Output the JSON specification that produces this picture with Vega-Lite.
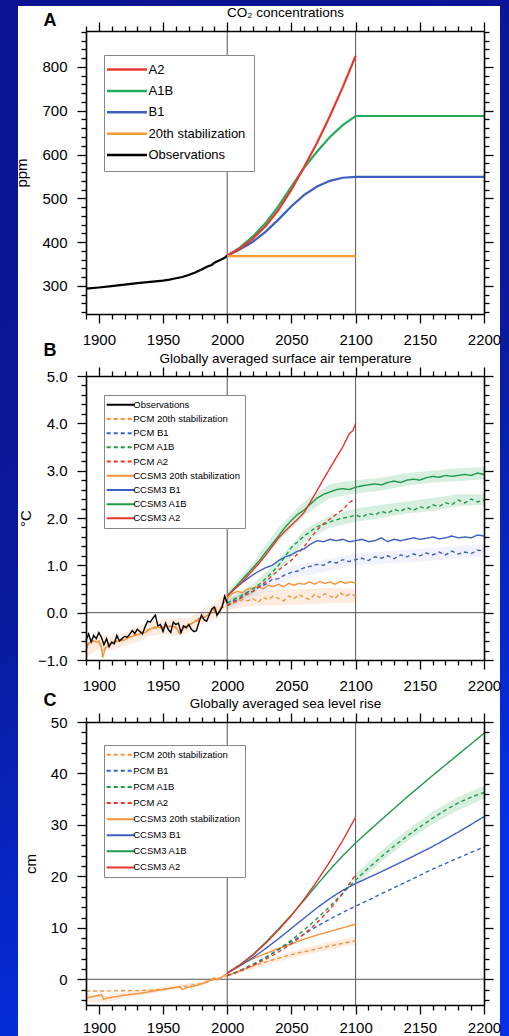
{
"$schema": "https://vega.github.io/schema/vega-lite/v6.json",
"padding": 0,
"background": "#0a1790",
"config": {"font": "Liberation Sans", "view": {"stroke": null},
  "axis": {"domainColor": "black", "domainWidth": 1.6, "tickColor": "black", "tickWidth": 1.3, "labelColor": "black", "labelFontSize": 15, "labelFont": "Liberation Sans", "titleFont": "Liberation Sans", "titleFontWeight": "normal", "titleColor": "black", "grid": false, "labelFlush": false, "labelOverlap": false}},
"datasets": {
"A": [
{"series":"Observations","year":1890,"value":294},{"series":"Observations","year":1900,"value":296.5},{"series":"Observations","year":1910,"value":299.5},{"series":"Observations","year":1920,"value":303},{"series":"Observations","year":1930,"value":306.5},{"series":"Observations","year":1940,"value":309.5},{"series":"Observations","year":1950,"value":312},{"series":"Observations","year":1955,"value":314.5},{"series":"Observations","year":1960,"value":317.5},{"series":"Observations","year":1965,"value":320.5},{"series":"Observations","year":1970,"value":325},{"series":"Observations","year":1975,"value":330.5},{"series":"Observations","year":1980,"value":337.5},{"series":"Observations","year":1985,"value":345},{"series":"Observations","year":1988,"value":348},{"series":"Observations","year":1990,"value":353},{"series":"Observations","year":1992,"value":356},{"series":"Observations","year":1995,"value":360},{"series":"Observations","year":1998,"value":364.5},{"series":"Observations","year":2000,"value":369},
{"series":"20th stabilization","year":2000,"value":368},{"series":"20th stabilization","year":2100,"value":368},
{"series":"B1","year":2000,"value":369},{"series":"B1","year":2010,"value":384},{"series":"B1","year":2020,"value":401},{"series":"B1","year":2030,"value":424},{"series":"B1","year":2040,"value":452},{"series":"B1","year":2050,"value":482},{"series":"B1","year":2060,"value":508},{"series":"B1","year":2070,"value":527},{"series":"B1","year":2080,"value":540},{"series":"B1","year":2090,"value":547},{"series":"B1","year":2100,"value":549},{"series":"B1","year":2200,"value":549},
{"series":"A1B","year":2000,"value":369},{"series":"A1B","year":2010,"value":388},{"series":"A1B","year":2020,"value":413},{"series":"A1B","year":2030,"value":444},{"series":"A1B","year":2040,"value":483},{"series":"A1B","year":2050,"value":527},{"series":"A1B","year":2060,"value":570},{"series":"A1B","year":2070,"value":607},{"series":"A1B","year":2080,"value":640},{"series":"A1B","year":2090,"value":667},{"series":"A1B","year":2100,"value":688},{"series":"A1B","year":2200,"value":688},
{"series":"A2","year":2000,"value":369},{"series":"A2","year":2010,"value":386},{"series":"A2","year":2020,"value":408},{"series":"A2","year":2030,"value":437},{"series":"A2","year":2040,"value":474},{"series":"A2","year":2050,"value":520},{"series":"A2","year":2060,"value":572},{"series":"A2","year":2070,"value":627},{"series":"A2","year":2080,"value":688},{"series":"A2","year":2090,"value":754},{"series":"A2","year":2100,"value":825}
],
"B": [
{"series":"CCSM3 20th stabilization","year":1890,"value":-0.8},{"series":"CCSM3 20th stabilization","year":1892,"value":-0.65},{"series":"CCSM3 20th stabilization","year":1894,"value":-0.62},{"series":"CCSM3 20th stabilization","year":1896,"value":-0.6},{"series":"CCSM3 20th stabilization","year":1898,"value":-0.62},{"series":"CCSM3 20th stabilization","year":1900,"value":-0.6},{"series":"CCSM3 20th stabilization","year":1902,"value":-0.72},{"series":"CCSM3 20th stabilization","year":1903,"value":-0.95},{"series":"CCSM3 20th stabilization","year":1905,"value":-0.75},{"series":"CCSM3 20th stabilization","year":1908,"value":-0.68},{"series":"CCSM3 20th stabilization","year":1912,"value":-0.62},{"series":"CCSM3 20th stabilization","year":1916,"value":-0.6},{"series":"CCSM3 20th stabilization","year":1920,"value":-0.58},{"series":"CCSM3 20th stabilization","year":1924,"value":-0.52},{"series":"CCSM3 20th stabilization","year":1928,"value":-0.48},{"series":"CCSM3 20th stabilization","year":1932,"value":-0.45},{"series":"CCSM3 20th stabilization","year":1936,"value":-0.42},{"series":"CCSM3 20th stabilization","year":1940,"value":-0.35},{"series":"CCSM3 20th stabilization","year":1944,"value":-0.3},{"series":"CCSM3 20th stabilization","year":1948,"value":-0.32},{"series":"CCSM3 20th stabilization","year":1952,"value":-0.3},{"series":"CCSM3 20th stabilization","year":1956,"value":-0.28},{"series":"CCSM3 20th stabilization","year":1960,"value":-0.3},{"series":"CCSM3 20th stabilization","year":1963,"value":-0.45},{"series":"CCSM3 20th stabilization","year":1966,"value":-0.32},{"series":"CCSM3 20th stabilization","year":1970,"value":-0.28},{"series":"CCSM3 20th stabilization","year":1974,"value":-0.2},{"series":"CCSM3 20th stabilization","year":1978,"value":-0.12},{"series":"CCSM3 20th stabilization","year":1982,"value":-0.1},{"series":"CCSM3 20th stabilization","year":1985,"value":-0.05},{"series":"CCSM3 20th stabilization","year":1988,"value":0.05},{"series":"CCSM3 20th stabilization","year":1991,"value":0.1},{"series":"CCSM3 20th stabilization","year":1992,"value":-0.08},{"series":"CCSM3 20th stabilization","year":1994,"value":0.05},{"series":"CCSM3 20th stabilization","year":1997,"value":0.2},{"series":"CCSM3 20th stabilization","year":2000,"value":0.3},{"series":"CCSM3 20th stabilization","year":2004,"value":0.4},{"series":"CCSM3 20th stabilization","year":2008,"value":0.45},{"series":"CCSM3 20th stabilization","year":2012,"value":0.42},{"series":"CCSM3 20th stabilization","year":2016,"value":0.5},{"series":"CCSM3 20th stabilization","year":2020,"value":0.52},{"series":"CCSM3 20th stabilization","year":2024,"value":0.55},{"series":"CCSM3 20th stabilization","year":2028,"value":0.5},{"series":"CCSM3 20th stabilization","year":2032,"value":0.58},{"series":"CCSM3 20th stabilization","year":2036,"value":0.55},{"series":"CCSM3 20th stabilization","year":2040,"value":0.6},{"series":"CCSM3 20th stabilization","year":2044,"value":0.55},{"series":"CCSM3 20th stabilization","year":2048,"value":0.62},{"series":"CCSM3 20th stabilization","year":2052,"value":0.58},{"series":"CCSM3 20th stabilization","year":2056,"value":0.62},{"series":"CCSM3 20th stabilization","year":2060,"value":0.6},{"series":"CCSM3 20th stabilization","year":2064,"value":0.65},{"series":"CCSM3 20th stabilization","year":2068,"value":0.6},{"series":"CCSM3 20th stabilization","year":2072,"value":0.66},{"series":"CCSM3 20th stabilization","year":2076,"value":0.62},{"series":"CCSM3 20th stabilization","year":2080,"value":0.65},{"series":"CCSM3 20th stabilization","year":2084,"value":0.6},{"series":"CCSM3 20th stabilization","year":2088,"value":0.66},{"series":"CCSM3 20th stabilization","year":2092,"value":0.62},{"series":"CCSM3 20th stabilization","year":2096,"value":0.65},{"series":"CCSM3 20th stabilization","year":2100,"value":0.63},
{"series":"PCM 20th stabilization","year":1890,"value":-0.7},{"series":"PCM 20th stabilization","year":1895,"value":-0.6},{"series":"PCM 20th stabilization","year":1900,"value":-0.62},{"series":"PCM 20th stabilization","year":1903,"value":-0.85},{"series":"PCM 20th stabilization","year":1906,"value":-0.7},{"series":"PCM 20th stabilization","year":1910,"value":-0.62},{"series":"PCM 20th stabilization","year":1915,"value":-0.58},{"series":"PCM 20th stabilization","year":1920,"value":-0.55},{"series":"PCM 20th stabilization","year":1925,"value":-0.5},{"series":"PCM 20th stabilization","year":1930,"value":-0.45},{"series":"PCM 20th stabilization","year":1935,"value":-0.4},{"series":"PCM 20th stabilization","year":1940,"value":-0.35},{"series":"PCM 20th stabilization","year":1945,"value":-0.32},{"series":"PCM 20th stabilization","year":1950,"value":-0.3},{"series":"PCM 20th stabilization","year":1955,"value":-0.3},{"series":"PCM 20th stabilization","year":1960,"value":-0.32},{"series":"PCM 20th stabilization","year":1963,"value":-0.42},{"series":"PCM 20th stabilization","year":1966,"value":-0.3},{"series":"PCM 20th stabilization","year":1970,"value":-0.25},{"series":"PCM 20th stabilization","year":1975,"value":-0.2},{"series":"PCM 20th stabilization","year":1980,"value":-0.12},{"series":"PCM 20th stabilization","year":1985,"value":-0.05},{"series":"PCM 20th stabilization","year":1990,"value":0.05},{"series":"PCM 20th stabilization","year":1992,"value":-0.05},{"series":"PCM 20th stabilization","year":1995,"value":0.1},{"series":"PCM 20th stabilization","year":2000,"value":0.15},{"series":"PCM 20th stabilization","year":2004,"value":0.2},{"series":"PCM 20th stabilization","year":2008,"value":0.22},{"series":"PCM 20th stabilization","year":2012,"value":0.28},{"series":"PCM 20th stabilization","year":2016,"value":0.25},{"series":"PCM 20th stabilization","year":2020,"value":0.3},{"series":"PCM 20th stabilization","year":2024,"value":0.22},{"series":"PCM 20th stabilization","year":2028,"value":0.32},{"series":"PCM 20th stabilization","year":2032,"value":0.28},{"series":"PCM 20th stabilization","year":2036,"value":0.35},{"series":"PCM 20th stabilization","year":2040,"value":0.3},{"series":"PCM 20th stabilization","year":2044,"value":0.25},{"series":"PCM 20th stabilization","year":2048,"value":0.35},{"series":"PCM 20th stabilization","year":2052,"value":0.3},{"series":"PCM 20th stabilization","year":2056,"value":0.38},{"series":"PCM 20th stabilization","year":2060,"value":0.32},{"series":"PCM 20th stabilization","year":2064,"value":0.28},{"series":"PCM 20th stabilization","year":2068,"value":0.38},{"series":"PCM 20th stabilization","year":2072,"value":0.32},{"series":"PCM 20th stabilization","year":2076,"value":0.4},{"series":"PCM 20th stabilization","year":2080,"value":0.35},{"series":"PCM 20th stabilization","year":2084,"value":0.3},{"series":"PCM 20th stabilization","year":2088,"value":0.42},{"series":"PCM 20th stabilization","year":2092,"value":0.35},{"series":"PCM 20th stabilization","year":2096,"value":0.4},{"series":"PCM 20th stabilization","year":2100,"value":0.35},
{"series":"PCM B1","year":2000,"value":0.15},{"series":"PCM B1","year":2005,"value":0.25},{"series":"PCM B1","year":2010,"value":0.3},{"series":"PCM B1","year":2015,"value":0.42},{"series":"PCM B1","year":2020,"value":0.45},{"series":"PCM B1","year":2025,"value":0.55},{"series":"PCM B1","year":2030,"value":0.6},{"series":"PCM B1","year":2035,"value":0.7},{"series":"PCM B1","year":2040,"value":0.72},{"series":"PCM B1","year":2045,"value":0.8},{"series":"PCM B1","year":2050,"value":0.85},{"series":"PCM B1","year":2055,"value":0.88},{"series":"PCM B1","year":2060,"value":0.95},{"series":"PCM B1","year":2065,"value":0.98},{"series":"PCM B1","year":2070,"value":1.02},{"series":"PCM B1","year":2075,"value":1.0},{"series":"PCM B1","year":2080,"value":1.08},{"series":"PCM B1","year":2085,"value":1.05},{"series":"PCM B1","year":2090,"value":1.12},{"series":"PCM B1","year":2095,"value":1.08},{"series":"PCM B1","year":2100,"value":1.12},{"series":"PCM B1","year":2105,"value":1.15},{"series":"PCM B1","year":2110,"value":1.1},{"series":"PCM B1","year":2115,"value":1.18},{"series":"PCM B1","year":2120,"value":1.15},{"series":"PCM B1","year":2125,"value":1.2},{"series":"PCM B1","year":2130,"value":1.14},{"series":"PCM B1","year":2135,"value":1.22},{"series":"PCM B1","year":2140,"value":1.18},{"series":"PCM B1","year":2145,"value":1.24},{"series":"PCM B1","year":2150,"value":1.2},{"series":"PCM B1","year":2155,"value":1.26},{"series":"PCM B1","year":2160,"value":1.22},{"series":"PCM B1","year":2165,"value":1.28},{"series":"PCM B1","year":2170,"value":1.22},{"series":"PCM B1","year":2175,"value":1.3},{"series":"PCM B1","year":2180,"value":1.24},{"series":"PCM B1","year":2185,"value":1.28},{"series":"PCM B1","year":2190,"value":1.25},{"series":"PCM B1","year":2195,"value":1.32},{"series":"PCM B1","year":2200,"value":1.3},
{"series":"PCM A1B","year":2000,"value":0.2},{"series":"PCM A1B","year":2005,"value":0.28},{"series":"PCM A1B","year":2010,"value":0.35},{"series":"PCM A1B","year":2015,"value":0.42},{"series":"PCM A1B","year":2020,"value":0.5},{"series":"PCM A1B","year":2025,"value":0.6},{"series":"PCM A1B","year":2030,"value":0.72},{"series":"PCM A1B","year":2035,"value":0.85},{"series":"PCM A1B","year":2040,"value":1.0},{"series":"PCM A1B","year":2045,"value":1.18},{"series":"PCM A1B","year":2050,"value":1.38},{"series":"PCM A1B","year":2055,"value":1.5},{"series":"PCM A1B","year":2060,"value":1.62},{"series":"PCM A1B","year":2065,"value":1.72},{"series":"PCM A1B","year":2070,"value":1.82},{"series":"PCM A1B","year":2075,"value":1.86},{"series":"PCM A1B","year":2080,"value":1.92},{"series":"PCM A1B","year":2085,"value":1.96},{"series":"PCM A1B","year":2090,"value":2.0},{"series":"PCM A1B","year":2095,"value":2.02},{"series":"PCM A1B","year":2100,"value":2.06},{"series":"PCM A1B","year":2105,"value":2.02},{"series":"PCM A1B","year":2110,"value":2.1},{"series":"PCM A1B","year":2115,"value":2.06},{"series":"PCM A1B","year":2120,"value":2.14},{"series":"PCM A1B","year":2125,"value":2.1},{"series":"PCM A1B","year":2130,"value":2.18},{"series":"PCM A1B","year":2135,"value":2.14},{"series":"PCM A1B","year":2140,"value":2.22},{"series":"PCM A1B","year":2145,"value":2.16},{"series":"PCM A1B","year":2150,"value":2.24},{"series":"PCM A1B","year":2155,"value":2.2},{"series":"PCM A1B","year":2160,"value":2.28},{"series":"PCM A1B","year":2165,"value":2.24},{"series":"PCM A1B","year":2170,"value":2.32},{"series":"PCM A1B","year":2175,"value":2.28},{"series":"PCM A1B","year":2180,"value":2.38},{"series":"PCM A1B","year":2185,"value":2.32},{"series":"PCM A1B","year":2190,"value":2.4},{"series":"PCM A1B","year":2195,"value":2.34},{"series":"PCM A1B","year":2200,"value":2.38},
{"series":"PCM A2","year":2000,"value":0.15},{"series":"PCM A2","year":2005,"value":0.22},{"series":"PCM A2","year":2010,"value":0.3},{"series":"PCM A2","year":2015,"value":0.38},{"series":"PCM A2","year":2020,"value":0.45},{"series":"PCM A2","year":2025,"value":0.55},{"series":"PCM A2","year":2030,"value":0.65},{"series":"PCM A2","year":2035,"value":0.78},{"series":"PCM A2","year":2040,"value":0.9},{"series":"PCM A2","year":2045,"value":1.0},{"series":"PCM A2","year":2050,"value":1.11},{"series":"PCM A2","year":2055,"value":1.25},{"series":"PCM A2","year":2060,"value":1.4},{"series":"PCM A2","year":2065,"value":1.58},{"series":"PCM A2","year":2070,"value":1.75},{"series":"PCM A2","year":2075,"value":1.88},{"series":"PCM A2","year":2080,"value":1.98},{"series":"PCM A2","year":2085,"value":2.08},{"series":"PCM A2","year":2090,"value":2.18},{"series":"PCM A2","year":2095,"value":2.32},{"series":"PCM A2","year":2100,"value":2.42},
{"series":"CCSM3 B1","year":2000,"value":0.35},{"series":"CCSM3 B1","year":2005,"value":0.5},{"series":"CCSM3 B1","year":2010,"value":0.6},{"series":"CCSM3 B1","year":2015,"value":0.7},{"series":"CCSM3 B1","year":2020,"value":0.8},{"series":"CCSM3 B1","year":2025,"value":0.88},{"series":"CCSM3 B1","year":2030,"value":0.95},{"series":"CCSM3 B1","year":2035,"value":1.0},{"series":"CCSM3 B1","year":2040,"value":1.1},{"series":"CCSM3 B1","year":2045,"value":1.18},{"series":"CCSM3 B1","year":2050,"value":1.22},{"series":"CCSM3 B1","year":2055,"value":1.3},{"series":"CCSM3 B1","year":2060,"value":1.35},{"series":"CCSM3 B1","year":2065,"value":1.45},{"series":"CCSM3 B1","year":2070,"value":1.52},{"series":"CCSM3 B1","year":2075,"value":1.5},{"series":"CCSM3 B1","year":2080,"value":1.55},{"series":"CCSM3 B1","year":2085,"value":1.52},{"series":"CCSM3 B1","year":2090,"value":1.55},{"series":"CCSM3 B1","year":2095,"value":1.5},{"series":"CCSM3 B1","year":2100,"value":1.52},{"series":"CCSM3 B1","year":2105,"value":1.55},{"series":"CCSM3 B1","year":2110,"value":1.5},{"series":"CCSM3 B1","year":2115,"value":1.52},{"series":"CCSM3 B1","year":2120,"value":1.58},{"series":"CCSM3 B1","year":2125,"value":1.5},{"series":"CCSM3 B1","year":2130,"value":1.55},{"series":"CCSM3 B1","year":2135,"value":1.52},{"series":"CCSM3 B1","year":2140,"value":1.55},{"series":"CCSM3 B1","year":2145,"value":1.58},{"series":"CCSM3 B1","year":2150,"value":1.55},{"series":"CCSM3 B1","year":2155,"value":1.57},{"series":"CCSM3 B1","year":2160,"value":1.6},{"series":"CCSM3 B1","year":2165,"value":1.56},{"series":"CCSM3 B1","year":2170,"value":1.58},{"series":"CCSM3 B1","year":2175,"value":1.62},{"series":"CCSM3 B1","year":2180,"value":1.58},{"series":"CCSM3 B1","year":2185,"value":1.6},{"series":"CCSM3 B1","year":2190,"value":1.58},{"series":"CCSM3 B1","year":2195,"value":1.64},{"series":"CCSM3 B1","year":2200,"value":1.62},
{"series":"CCSM3 A1B","year":2000,"value":0.35},{"series":"CCSM3 A1B","year":2005,"value":0.5},{"series":"CCSM3 A1B","year":2010,"value":0.65},{"series":"CCSM3 A1B","year":2015,"value":0.8},{"series":"CCSM3 A1B","year":2020,"value":0.95},{"series":"CCSM3 A1B","year":2025,"value":1.1},{"series":"CCSM3 A1B","year":2030,"value":1.28},{"series":"CCSM3 A1B","year":2035,"value":1.45},{"series":"CCSM3 A1B","year":2040,"value":1.62},{"series":"CCSM3 A1B","year":2045,"value":1.8},{"series":"CCSM3 A1B","year":2050,"value":1.95},{"series":"CCSM3 A1B","year":2055,"value":2.08},{"series":"CCSM3 A1B","year":2060,"value":2.17},{"series":"CCSM3 A1B","year":2065,"value":2.3},{"series":"CCSM3 A1B","year":2070,"value":2.42},{"series":"CCSM3 A1B","year":2075,"value":2.5},{"series":"CCSM3 A1B","year":2080,"value":2.55},{"series":"CCSM3 A1B","year":2085,"value":2.6},{"series":"CCSM3 A1B","year":2090,"value":2.62},{"series":"CCSM3 A1B","year":2095,"value":2.6},{"series":"CCSM3 A1B","year":2100,"value":2.65},{"series":"CCSM3 A1B","year":2105,"value":2.68},{"series":"CCSM3 A1B","year":2110,"value":2.7},{"series":"CCSM3 A1B","year":2115,"value":2.72},{"series":"CCSM3 A1B","year":2120,"value":2.7},{"series":"CCSM3 A1B","year":2125,"value":2.75},{"series":"CCSM3 A1B","year":2130,"value":2.78},{"series":"CCSM3 A1B","year":2135,"value":2.75},{"series":"CCSM3 A1B","year":2140,"value":2.8},{"series":"CCSM3 A1B","year":2145,"value":2.82},{"series":"CCSM3 A1B","year":2150,"value":2.8},{"series":"CCSM3 A1B","year":2155,"value":2.85},{"series":"CCSM3 A1B","year":2160,"value":2.88},{"series":"CCSM3 A1B","year":2165,"value":2.86},{"series":"CCSM3 A1B","year":2170,"value":2.9},{"series":"CCSM3 A1B","year":2175,"value":2.88},{"series":"CCSM3 A1B","year":2180,"value":2.9},{"series":"CCSM3 A1B","year":2185,"value":2.92},{"series":"CCSM3 A1B","year":2190,"value":2.9},{"series":"CCSM3 A1B","year":2195,"value":2.95},{"series":"CCSM3 A1B","year":2200,"value":2.92},
{"series":"CCSM3 A2","year":2000,"value":0.35},{"series":"CCSM3 A2","year":2005,"value":0.48},{"series":"CCSM3 A2","year":2010,"value":0.6},{"series":"CCSM3 A2","year":2015,"value":0.75},{"series":"CCSM3 A2","year":2020,"value":0.9},{"series":"CCSM3 A2","year":2025,"value":1.05},{"series":"CCSM3 A2","year":2030,"value":1.22},{"series":"CCSM3 A2","year":2035,"value":1.4},{"series":"CCSM3 A2","year":2040,"value":1.58},{"series":"CCSM3 A2","year":2045,"value":1.72},{"series":"CCSM3 A2","year":2050,"value":1.85},{"series":"CCSM3 A2","year":2055,"value":1.98},{"series":"CCSM3 A2","year":2060,"value":2.12},{"series":"CCSM3 A2","year":2065,"value":2.35},{"series":"CCSM3 A2","year":2070,"value":2.58},{"series":"CCSM3 A2","year":2075,"value":2.82},{"series":"CCSM3 A2","year":2080,"value":3.05},{"series":"CCSM3 A2","year":2085,"value":3.28},{"series":"CCSM3 A2","year":2090,"value":3.5},{"series":"CCSM3 A2","year":2095,"value":3.78},{"series":"CCSM3 A2","year":2098,"value":3.85},{"series":"CCSM3 A2","year":2100,"value":4.0},
{"series":"Observations","year":1890,"value":-0.58},{"series":"Observations","year":1892,"value":-0.45},{"series":"Observations","year":1894,"value":-0.62},{"series":"Observations","year":1896,"value":-0.48},{"series":"Observations","year":1898,"value":-0.55},{"series":"Observations","year":1900,"value":-0.42},{"series":"Observations","year":1902,"value":-0.52},{"series":"Observations","year":1904,"value":-0.68},{"series":"Observations","year":1906,"value":-0.55},{"series":"Observations","year":1908,"value":-0.72},{"series":"Observations","year":1910,"value":-0.62},{"series":"Observations","year":1912,"value":-0.66},{"series":"Observations","year":1914,"value":-0.48},{"series":"Observations","year":1916,"value":-0.6},{"series":"Observations","year":1918,"value":-0.55},{"series":"Observations","year":1920,"value":-0.5},{"series":"Observations","year":1922,"value":-0.52},{"series":"Observations","year":1924,"value":-0.46},{"series":"Observations","year":1926,"value":-0.38},{"series":"Observations","year":1928,"value":-0.44},{"series":"Observations","year":1930,"value":-0.35},{"series":"Observations","year":1932,"value":-0.4},{"series":"Observations","year":1934,"value":-0.45},{"series":"Observations","year":1936,"value":-0.3},{"series":"Observations","year":1938,"value":-0.18},{"series":"Observations","year":1940,"value":-0.2},{"series":"Observations","year":1942,"value":-0.12},{"series":"Observations","year":1944,"value":-0.05},{"series":"Observations","year":1946,"value":-0.28},{"series":"Observations","year":1948,"value":-0.25},{"series":"Observations","year":1950,"value":-0.4},{"series":"Observations","year":1952,"value":-0.22},{"series":"Observations","year":1954,"value":-0.35},{"series":"Observations","year":1956,"value":-0.42},{"series":"Observations","year":1958,"value":-0.2},{"series":"Observations","year":1960,"value":-0.25},{"series":"Observations","year":1962,"value":-0.22},{"series":"Observations","year":1964,"value":-0.42},{"series":"Observations","year":1966,"value":-0.28},{"series":"Observations","year":1968,"value":-0.32},{"series":"Observations","year":1970,"value":-0.25},{"series":"Observations","year":1972,"value":-0.35},{"series":"Observations","year":1974,"value":-0.4},{"series":"Observations","year":1976,"value":-0.38},{"series":"Observations","year":1978,"value":-0.2},{"series":"Observations","year":1980,"value":-0.05},{"series":"Observations","year":1982,"value":-0.15},{"series":"Observations","year":1984,"value":-0.18},{"series":"Observations","year":1986,"value":-0.05},{"series":"Observations","year":1988,"value":0.08},{"series":"Observations","year":1990,"value":0.12},{"series":"Observations","year":1992,"value":-0.05},{"series":"Observations","year":1994,"value":0.02},{"series":"Observations","year":1996,"value":0.12},{"series":"Observations","year":1998,"value":0.35},{"series":"Observations","year":2000,"value":0.2}
],
"Bband": [
{"series":"CCSM3 20th stabilization","year":1890,"lo":-0.95,"hi":-0.65},{"series":"CCSM3 20th stabilization","year":1900,"lo":-0.75,"hi":-0.45},{"series":"CCSM3 20th stabilization","year":1910,"lo":-0.8,"hi":-0.5},{"series":"CCSM3 20th stabilization","year":1920,"lo":-0.7,"hi":-0.42},{"series":"CCSM3 20th stabilization","year":1930,"lo":-0.62,"hi":-0.3},{"series":"CCSM3 20th stabilization","year":1940,"lo":-0.5,"hi":-0.2},{"series":"CCSM3 20th stabilization","year":1950,"lo":-0.45,"hi":-0.15},{"series":"CCSM3 20th stabilization","year":1960,"lo":-0.5,"hi":-0.12},{"series":"CCSM3 20th stabilization","year":1970,"lo":-0.4,"hi":-0.12},{"series":"CCSM3 20th stabilization","year":1980,"lo":-0.25,"hi":0.05},{"series":"CCSM3 20th stabilization","year":1990,"lo":-0.1,"hi":0.2},{"series":"CCSM3 20th stabilization","year":2000,"lo":0.15,"hi":0.45},
{"series":"PCM 20th stabilization","year":2000,"lo":0.05,"hi":0.3},{"series":"PCM 20th stabilization","year":2020,"lo":0.15,"hi":0.45},{"series":"PCM 20th stabilization","year":2040,"lo":0.15,"hi":0.48},{"series":"PCM 20th stabilization","year":2060,"lo":0.18,"hi":0.5},{"series":"PCM 20th stabilization","year":2080,"lo":0.2,"hi":0.52},{"series":"PCM 20th stabilization","year":2100,"lo":0.2,"hi":0.5},
{"series":"PCM B1","year":2000,"lo":0.05,"hi":0.25},{"series":"PCM B1","year":2050,"lo":0.72,"hi":0.98},{"series":"PCM B1","year":2100,"lo":1.0,"hi":1.25},{"series":"PCM B1","year":2150,"lo":1.08,"hi":1.35},{"series":"PCM B1","year":2200,"lo":1.18,"hi":1.45},
{"series":"PCM A1B","year":2000,"lo":0.1,"hi":0.3},{"series":"PCM A1B","year":2020,"lo":0.4,"hi":0.6},{"series":"PCM A1B","year":2040,"lo":0.88,"hi":1.12},{"series":"PCM A1B","year":2060,"lo":1.5,"hi":1.75},{"series":"PCM A1B","year":2080,"lo":1.8,"hi":2.05},{"series":"PCM A1B","year":2100,"lo":1.92,"hi":2.2},{"series":"PCM A1B","year":2120,"lo":2.0,"hi":2.28},{"series":"PCM A1B","year":2140,"lo":2.1,"hi":2.35},{"series":"PCM A1B","year":2160,"lo":2.15,"hi":2.42},{"series":"PCM A1B","year":2180,"lo":2.25,"hi":2.5},{"series":"PCM A1B","year":2200,"lo":2.28,"hi":2.5},
{"series":"CCSM3 A1B","year":2000,"lo":0.3,"hi":0.45},{"series":"CCSM3 A1B","year":2020,"lo":0.85,"hi":1.05},{"series":"CCSM3 A1B","year":2040,"lo":1.5,"hi":1.8},{"series":"CCSM3 A1B","year":2060,"lo":2.05,"hi":2.35},{"series":"CCSM3 A1B","year":2080,"lo":2.42,"hi":2.72},{"series":"CCSM3 A1B","year":2100,"lo":2.52,"hi":2.8},{"series":"CCSM3 A1B","year":2120,"lo":2.58,"hi":2.85},{"series":"CCSM3 A1B","year":2140,"lo":2.68,"hi":2.95},{"series":"CCSM3 A1B","year":2160,"lo":2.75,"hi":3.0},{"series":"CCSM3 A1B","year":2180,"lo":2.78,"hi":3.05},{"series":"CCSM3 A1B","year":2200,"lo":2.82,"hi":3.08}
],
"C": [
{"series":"CCSM3 20th stabilization","year":1890,"value":-3.6},{"series":"CCSM3 20th stabilization","year":1895,"value":-3.4},{"series":"CCSM3 20th stabilization","year":1900,"value":-3.1},{"series":"CCSM3 20th stabilization","year":1902,"value":-3.0},{"series":"CCSM3 20th stabilization","year":1904,"value":-3.9},{"series":"CCSM3 20th stabilization","year":1906,"value":-3.7},{"series":"CCSM3 20th stabilization","year":1910,"value":-3.5},{"series":"CCSM3 20th stabilization","year":1920,"value":-3.1},{"series":"CCSM3 20th stabilization","year":1930,"value":-2.8},{"series":"CCSM3 20th stabilization","year":1940,"value":-2.4},{"series":"CCSM3 20th stabilization","year":1950,"value":-2.0},{"series":"CCSM3 20th stabilization","year":1960,"value":-1.55},{"series":"CCSM3 20th stabilization","year":1963,"value":-1.45},{"series":"CCSM3 20th stabilization","year":1965,"value":-2.0},{"series":"CCSM3 20th stabilization","year":1968,"value":-1.65},{"series":"CCSM3 20th stabilization","year":1975,"value":-1.3},{"series":"CCSM3 20th stabilization","year":1980,"value":-0.9},{"series":"CCSM3 20th stabilization","year":1985,"value":-0.4},{"series":"CCSM3 20th stabilization","year":1988,"value":0.0},{"series":"CCSM3 20th stabilization","year":1990,"value":0.3},{"series":"CCSM3 20th stabilization","year":1992,"value":-0.1},{"series":"CCSM3 20th stabilization","year":1994,"value":0.05},{"series":"CCSM3 20th stabilization","year":1996,"value":0.45},{"series":"CCSM3 20th stabilization","year":2000,"value":1.2},{"series":"CCSM3 20th stabilization","year":2010,"value":2.8},{"series":"CCSM3 20th stabilization","year":2020,"value":4.0},{"series":"CCSM3 20th stabilization","year":2030,"value":5.0},{"series":"CCSM3 20th stabilization","year":2040,"value":6.0},{"series":"CCSM3 20th stabilization","year":2050,"value":6.9},{"series":"CCSM3 20th stabilization","year":2060,"value":7.8},{"series":"CCSM3 20th stabilization","year":2070,"value":8.6},{"series":"CCSM3 20th stabilization","year":2080,"value":9.3},{"series":"CCSM3 20th stabilization","year":2090,"value":10.0},{"series":"CCSM3 20th stabilization","year":2100,"value":10.7},
{"series":"PCM 20th stabilization","year":1890,"value":-2.3},{"series":"PCM 20th stabilization","year":1910,"value":-2.25},{"series":"PCM 20th stabilization","year":1930,"value":-2.2},{"series":"PCM 20th stabilization","year":1945,"value":-2.05},{"series":"PCM 20th stabilization","year":1955,"value":-1.8},{"series":"PCM 20th stabilization","year":1960,"value":-1.6},{"series":"PCM 20th stabilization","year":1970,"value":-1.25},{"series":"PCM 20th stabilization","year":1980,"value":-0.85},{"series":"PCM 20th stabilization","year":1985,"value":-0.45},{"series":"PCM 20th stabilization","year":1990,"value":0.0},{"series":"PCM 20th stabilization","year":1995,"value":0.3},{"series":"PCM 20th stabilization","year":2000,"value":0.7},{"series":"PCM 20th stabilization","year":2010,"value":1.7},{"series":"PCM 20th stabilization","year":2025,"value":3.0},{"series":"PCM 20th stabilization","year":2050,"value":4.8},{"series":"PCM 20th stabilization","year":2075,"value":6.2},{"series":"PCM 20th stabilization","year":2100,"value":7.5},
{"series":"PCM B1","year":2000,"value":0.7},{"series":"PCM B1","year":2010,"value":1.7},{"series":"PCM B1","year":2020,"value":2.9},{"series":"PCM B1","year":2030,"value":4.3},{"series":"PCM B1","year":2040,"value":5.8},{"series":"PCM B1","year":2050,"value":7.3},{"series":"PCM B1","year":2060,"value":8.8},{"series":"PCM B1","year":2070,"value":10.3},{"series":"PCM B1","year":2080,"value":11.7},{"series":"PCM B1","year":2090,"value":13.0},{"series":"PCM B1","year":2100,"value":14.2},{"series":"PCM B1","year":2120,"value":16.6},{"series":"PCM B1","year":2140,"value":19.0},{"series":"PCM B1","year":2160,"value":21.4},{"series":"PCM B1","year":2180,"value":23.6},{"series":"PCM B1","year":2200,"value":25.7},
{"series":"PCM A1B","year":2000,"value":0.7},{"series":"PCM A1B","year":2010,"value":1.6},{"series":"PCM A1B","year":2020,"value":2.8},{"series":"PCM A1B","year":2030,"value":4.2},{"series":"PCM A1B","year":2040,"value":5.8},{"series":"PCM A1B","year":2050,"value":7.6},{"series":"PCM A1B","year":2060,"value":9.6},{"series":"PCM A1B","year":2070,"value":11.8},{"series":"PCM A1B","year":2080,"value":14.2},{"series":"PCM A1B","year":2090,"value":16.7},{"series":"PCM A1B","year":2100,"value":19.3},{"series":"PCM A1B","year":2110,"value":21.6},{"series":"PCM A1B","year":2120,"value":23.8},{"series":"PCM A1B","year":2130,"value":25.9},{"series":"PCM A1B","year":2140,"value":27.8},{"series":"PCM A1B","year":2150,"value":29.6},{"series":"PCM A1B","year":2160,"value":31.3},{"series":"PCM A1B","year":2170,"value":32.9},{"series":"PCM A1B","year":2180,"value":34.3},{"series":"PCM A1B","year":2190,"value":35.4},{"series":"PCM A1B","year":2200,"value":36.3},
{"series":"PCM A2","year":2000,"value":0.7},{"series":"PCM A2","year":2010,"value":1.6},{"series":"PCM A2","year":2020,"value":2.7},{"series":"PCM A2","year":2030,"value":3.9},{"series":"PCM A2","year":2040,"value":5.3},{"series":"PCM A2","year":2050,"value":6.9},{"series":"PCM A2","year":2060,"value":8.8},{"series":"PCM A2","year":2070,"value":11.0},{"series":"PCM A2","year":2080,"value":13.6},{"series":"PCM A2","year":2090,"value":16.7},{"series":"PCM A2","year":2100,"value":20.3},
{"series":"CCSM3 B1","year":2000,"value":1.2},{"series":"CCSM3 B1","year":2010,"value":2.6},{"series":"CCSM3 B1","year":2020,"value":4.2},{"series":"CCSM3 B1","year":2030,"value":6.0},{"series":"CCSM3 B1","year":2040,"value":7.9},{"series":"CCSM3 B1","year":2050,"value":9.9},{"series":"CCSM3 B1","year":2060,"value":11.9},{"series":"CCSM3 B1","year":2070,"value":13.9},{"series":"CCSM3 B1","year":2080,"value":15.7},{"series":"CCSM3 B1","year":2090,"value":17.3},{"series":"CCSM3 B1","year":2100,"value":18.6},{"series":"CCSM3 B1","year":2120,"value":20.9},{"series":"CCSM3 B1","year":2140,"value":23.3},{"series":"CCSM3 B1","year":2160,"value":25.8},{"series":"CCSM3 B1","year":2180,"value":28.6},{"series":"CCSM3 B1","year":2200,"value":31.6},
{"series":"CCSM3 A1B","year":2000,"value":1.2},{"series":"CCSM3 A1B","year":2010,"value":2.8},{"series":"CCSM3 A1B","year":2020,"value":4.8},{"series":"CCSM3 A1B","year":2030,"value":7.2},{"series":"CCSM3 A1B","year":2040,"value":9.8},{"series":"CCSM3 A1B","year":2050,"value":12.5},{"series":"CCSM3 A1B","year":2060,"value":15.4},{"series":"CCSM3 A1B","year":2070,"value":18.4},{"series":"CCSM3 A1B","year":2080,"value":21.3},{"series":"CCSM3 A1B","year":2090,"value":24.0},{"series":"CCSM3 A1B","year":2100,"value":26.5},{"series":"CCSM3 A1B","year":2120,"value":31.0},{"series":"CCSM3 A1B","year":2140,"value":35.4},{"series":"CCSM3 A1B","year":2160,"value":39.6},{"series":"CCSM3 A1B","year":2180,"value":43.7},{"series":"CCSM3 A1B","year":2200,"value":47.8},
{"series":"CCSM3 A2","year":2000,"value":1.2},{"series":"CCSM3 A2","year":2010,"value":2.8},{"series":"CCSM3 A2","year":2020,"value":4.7},{"series":"CCSM3 A2","year":2030,"value":7.0},{"series":"CCSM3 A2","year":2040,"value":9.6},{"series":"CCSM3 A2","year":2050,"value":12.4},{"series":"CCSM3 A2","year":2060,"value":15.6},{"series":"CCSM3 A2","year":2070,"value":19.1},{"series":"CCSM3 A2","year":2080,"value":22.9},{"series":"CCSM3 A2","year":2090,"value":27.0},{"series":"CCSM3 A2","year":2100,"value":31.5}
],
"Cband": [
{"series":"CCSM3 20th stabilization","year":1890,"lo":-4.3,"hi":-2.8},{"series":"CCSM3 20th stabilization","year":1905,"lo":-4.5,"hi":-3.2},{"series":"CCSM3 20th stabilization","year":1920,"lo":-3.6,"hi":-2.5},{"series":"CCSM3 20th stabilization","year":1940,"lo":-2.8,"hi":-1.9},{"series":"CCSM3 20th stabilization","year":1960,"lo":-1.9,"hi":-1.1},{"series":"CCSM3 20th stabilization","year":1980,"lo":-1.2,"hi":-0.5},{"series":"CCSM3 20th stabilization","year":1990,"lo":-0.2,"hi":0.5},
{"series":"PCM 20th stabilization","year":2000,"lo":0.5,"hi":1.0},{"series":"PCM 20th stabilization","year":2050,"lo":4.2,"hi":5.4},{"series":"PCM 20th stabilization","year":2075,"lo":5.5,"hi":7.0},{"series":"PCM 20th stabilization","year":2100,"lo":6.8,"hi":8.3},
{"series":"PCM A1B","year":2100,"lo":18.5,"hi":20.5},{"series":"PCM A1B","year":2120,"lo":22.8,"hi":25.0},{"series":"PCM A1B","year":2140,"lo":26.8,"hi":29.0},{"series":"PCM A1B","year":2160,"lo":30.2,"hi":32.6},{"series":"PCM A1B","year":2180,"lo":32.9,"hi":35.4},{"series":"PCM A1B","year":2200,"lo":35.1,"hi":37.6}
],
"rulesV": [{"year": 2000}, {"year": 2100}],
"rulesH": [{"value": 0}]
},
"vconcat": [
{
 "width": 398, "height": 283,
 "layer": [
  {"data": {"values": [{}]}, "mark": {"type": "rect", "clip": false, "fill": {"gradient": "linear", "x1": 0, "y1": 0, "x2": 0.3, "y2": 1, "stops": [{"offset": 0, "color": "#0b1390"}, {"offset": 0.55, "color": "#0a1a9c"}, {"offset": 1, "color": "#0530e6"}]}},
   "encoding": {"x": {"datum": 1823.02, "type": "quantitative", "scale": {"domain": [1890, 2200], "nice": false, "zero": false}, "axis": null}, "x2": {"datum": 2219.47}, "y": {"datum": 952.76, "type": "quantitative", "scale": {"domain": [236, 882], "nice": false, "zero": false}, "axis": null}, "y2": {"datum": -1412.1}}},
  {"data": {"values": [{}]}, "mark": {"type": "rect", "clip": false, "fill": "white"},
   "encoding": {"x": {"datum": 1837.04, "type": "quantitative", "scale": {"domain": [1890, 2200], "nice": false, "zero": false}, "axis": null}, "x2": {"datum": 2212.46}, "y": {"datum": 939.07, "type": "quantitative", "scale": {"domain": [236, 882], "nice": false, "zero": false}, "axis": null}, "y2": {"datum": -1412.1}}},
  {"data": {"name": "rulesV"}, "mark": {"type": "rule", "color": "#555", "strokeWidth": 1},
   "encoding": {"x": {"field": "year", "type": "quantitative", "scale": {"domain": [1890, 2200], "nice": false, "zero": false},
     "axis": {"orient": "top", "values": [1890,1900,1910,1920,1930,1940,1950,1960,1970,1980,1990,2000,2010,2020,2030,2040,2050,2060,2070,2080,2090,2100,2110,2120,2130,2140,2150,2160,2170,2180,2190,2200], "labels": false, "tickSize": {"condition": {"test": "datum.value % 50 === 0", "value": 9}, "value": 5}, "title": "CO₂ concentrations", "titleFontSize": 13.5, "titlePadding": 4.5, "titleBaseline": "alphabetic", "zindex": 1}}}},
  {"data": {"name": "A"}, "transform": [{"filter": {"field": "series", "oneOf": ["A2", "A1B", "B1"]}}],
   "mark": {"type": "line", "strokeWidth": 2.2},
   "encoding": {
    "x": {"field": "year", "type": "quantitative", "scale": {"domain": [1890, 2200], "nice": false, "zero": false},
     "axis": {"orient": "bottom", "values": [1890,1900,1910,1920,1930,1940,1950,1960,1970,1980,1990,2000,2010,2020,2030,2040,2050,2060,2070,2080,2090,2100,2110,2120,2130,2140,2150,2160,2170,2180,2190,2200], "format": "d", "labelExpr": "datum.value % 50 === 0 ? datum.label : ''", "tickSize": {"condition": {"test": "datum.value % 50 === 0", "value": 9}, "value": 5}, "labelPadding": 9, "title": null, "zindex": 1}},
    "y": {"field": "value", "type": "quantitative", "scale": {"domain": [236, 882], "nice": false, "zero": false},
     "axis": {"orient": "left", "values": [240,260,280,300,320,340,360,380,400,420,440,460,480,500,520,540,560,580,600,620,640,660,680,700,720,740,760,780,800,820,840,860,880], "format": "d", "labelExpr": "datum.value % 100 === 0 ? datum.label : ''", "tickSize": {"condition": {"test": "datum.value % 100 === 0", "value": 9}, "value": 5}, "labelPadding": 10, "title": "ppm", "titleFontSize": 15, "titlePadding": 12, "zindex": 1}},
    "color": {"field": "series", "type": "nominal", "scale": {"domain": ["A2", "A1B", "B1", "20th stabilization", "Observations"], "range": ["#e8392e", "#22ad5c", "#3d5fc0", "#ff9a33", "#000000"]},
     "legend": {"orient": "none", "legendX": 18, "legendY": 24, "title": null, "symbolType": "M-4,0H4", "symbolSize": 100, "symbolOffset": 8.5, "symbolStrokeWidth": 2.5, "labelFontSize": 13, "labelFont": "Liberation Sans", "labelOffset": 15, "rowPadding": 7.4, "padding": 8, "strokeColor": "#888", "fillColor": "white", "labelLimit": 400}}
   }},
  {"data": {"name": "A"}, "transform": [{"filter": {"field": "series", "oneOf": ["20th stabilization", "Observations"]}}],
   "mark": {"type": "line", "strokeWidth": 2.2},
   "encoding": {
    "x": {"field": "year", "type": "quantitative", "scale": {"domain": [1890, 2200], "nice": false, "zero": false}, "axis": null},
    "y": {"field": "value", "type": "quantitative", "scale": {"domain": [236, 882], "nice": false, "zero": false},
     "axis": {"orient": "right", "values": [240,260,280,300,320,340,360,380,400,420,440,460,480,500,520,540,560,580,600,620,640,660,680,700,720,740,760,780,800,820,840,860,880], "labels": false, "tickSize": {"condition": {"test": "datum.value % 100 === 0", "value": 9}, "value": 5}, "title": "A", "titleX": -441, "titleY": -6, "titleAngle": 0, "titleAlign": "left", "titleBaseline": "alphabetic", "titleFontSize": 18, "titleFontWeight": "bold", "zindex": 1}},
    "color": {"field": "series", "type": "nominal", "scale": {"domain": ["A2", "A1B", "B1", "20th stabilization", "Observations"], "range": ["#e8392e", "#22ad5c", "#3d5fc0", "#ff9a33", "#000000"]},
     "legend": {"orient": "none", "legendX": 18, "legendY": 24, "title": null, "symbolType": "M-4,0H4", "symbolSize": 100, "symbolOffset": 8.5, "symbolStrokeWidth": 2.5, "labelFontSize": 13, "labelFont": "Liberation Sans", "labelOffset": 15, "rowPadding": 7.4, "padding": 8, "strokeColor": "#888", "fillColor": "white", "labelLimit": 400}}
   }}
 ],
 "resolve": {"axis": {"x": "independent", "y": "independent"}}
},
{
 "width": 398, "height": 284,
 "layer": [
  {"data": {"name": "Bband"}, "mark": {"type": "area", "opacity": 0.2},
   "encoding": {"x": {"field": "year", "type": "quantitative", "scale": {"domain": [1890, 2200], "nice": false, "zero": false}, "axis": null},
    "y": {"field": "lo", "type": "quantitative", "scale": {"domain": [-1, 5], "nice": false, "zero": false}, "axis": null}, "y2": {"field": "hi"},
    "fill": {"field": "series", "type": "nominal", "scale": {"domain": ["CCSM3 20th stabilization", "PCM 20th stabilization", "PCM B1", "PCM A1B", "CCSM3 A1B"], "range": ["#f5a060", "#f5a060", "#b8c0f4", "#30b060", "#30b060"]}, "legend": null}}},
  {"data": {"name": "rulesV"}, "mark": {"type": "rule", "color": "#555", "strokeWidth": 1},
   "encoding": {"x": {"field": "year", "type": "quantitative", "scale": {"domain": [1890, 2200], "nice": false, "zero": false},
     "axis": {"orient": "top", "values": [1890,1900,1910,1920,1930,1940,1950,1960,1970,1980,1990,2000,2010,2020,2030,2040,2050,2060,2070,2080,2090,2100,2110,2120,2130,2140,2150,2160,2170,2180,2190,2200], "labels": false, "tickSize": {"condition": {"test": "datum.value % 50 === 0", "value": 9}, "value": 5}, "title": "Globally averaged surface air temperature", "titleFontSize": 13.5, "titlePadding": 4, "titleBaseline": "alphabetic", "zindex": 1}}}},
  {"data": {"name": "rulesH"}, "mark": {"type": "rule", "color": "#555", "strokeWidth": 1},
   "encoding": {"y": {"field": "value", "type": "quantitative", "scale": {"domain": [-1, 5], "nice": false, "zero": false},
     "axis": {"orient": "right", "values": [-1,-0.8,-0.6,-0.4,-0.2,0,0.2,0.4,0.6,0.8,1,1.2,1.4,1.6,1.8,2,2.2,2.4,2.6,2.8,3,3.2,3.4,3.6,3.8,4,4.2,4.4,4.6,4.8,5], "labels": false, "tickSize": {"condition": {"test": "abs(datum.value - round(datum.value)) < 0.001", "value": 9}, "value": 5}, "title": "B", "titleX": -441, "titleY": -21, "titleAngle": 0, "titleAlign": "left", "titleBaseline": "alphabetic", "titleFontSize": 18, "titleFontWeight": "bold", "zindex": 1}}}},
  {"data": {"name": "B"}, "mark": {"type": "line", "strokeWidth": 1.4},
   "encoding": {
    "x": {"field": "year", "type": "quantitative", "scale": {"domain": [1890, 2200], "nice": false, "zero": false},
     "axis": {"orient": "bottom", "values": [1890,1900,1910,1920,1930,1940,1950,1960,1970,1980,1990,2000,2010,2020,2030,2040,2050,2060,2070,2080,2090,2100,2110,2120,2130,2140,2150,2160,2170,2180,2190,2200], "format": "d", "labelExpr": "datum.value % 50 === 0 ? datum.label : ''", "tickSize": {"condition": {"test": "datum.value % 50 === 0", "value": 9}, "value": 5}, "labelPadding": 9, "title": null, "zindex": 1}},
    "y": {"field": "value", "type": "quantitative", "scale": {"domain": [-1, 5], "nice": false, "zero": false},
     "axis": {"orient": "left", "values": [-1,-0.8,-0.6,-0.4,-0.2,0,0.2,0.4,0.6,0.8,1,1.2,1.4,1.6,1.8,2,2.2,2.4,2.6,2.8,3,3.2,3.4,3.6,3.8,4,4.2,4.4,4.6,4.8,5], "format": ".1f", "labelExpr": "abs(datum.value - round(datum.value)) < 0.001 ? datum.label : ''", "tickSize": {"condition": {"test": "abs(datum.value - round(datum.value)) < 0.001", "value": 9}, "value": 5}, "labelPadding": 10, "title": "°C", "titleFontSize": 15, "titlePadding": 4, "zindex": 1}},
    "color": {"field": "series", "type": "nominal", "scale": {"domain": ["Observations", "PCM 20th stabilization", "PCM B1", "PCM A1B", "PCM A2", "CCSM3 20th stabilization", "CCSM3 B1", "CCSM3 A1B", "CCSM3 A2"], "range": ["#000000", "#f7923a", "#3b5fc4", "#1f9a4a", "#e8352b", "#f7923a", "#3b5fc4", "#1f9a4a", "#e8352b"]},
     "legend": {"orient": "none", "legendX": 18, "legendY": 19, "title": null, "symbolType": "M-4,0H4", "symbolSize": 49, "symbolOffset": 6.95, "symbolStrokeWidth": 2, "labelFontSize": 9.5, "labelFont": "Liberation Sans", "labelOffset": 7.8, "rowPadding": 3.2, "padding": 5, "strokeColor": "#888", "fillColor": "white", "labelLimit": 400}},
    "strokeDash": {"field": "series", "type": "nominal", "scale": {"domain": ["Observations", "PCM 20th stabilization", "PCM B1", "PCM A1B", "PCM A2", "CCSM3 20th stabilization", "CCSM3 B1", "CCSM3 A1B", "CCSM3 A2"], "range": [[1,0],[4,3],[4,3],[4,3],[4,3],[1,0],[1,0],[1,0],[1,0]]},
     "legend": {"orient": "none", "legendX": 18, "legendY": 19, "title": null, "symbolType": "M-4,0H4", "symbolSize": 49, "symbolOffset": 6.95, "symbolStrokeWidth": 2, "labelFontSize": 9.5, "labelFont": "Liberation Sans", "labelOffset": 7.8, "rowPadding": 3.2, "padding": 5, "strokeColor": "#888", "fillColor": "white", "labelLimit": 400}}
   }}
 ],
 "resolve": {"axis": {"x": "independent", "y": "independent"}}
},
{
 "width": 398, "height": 283,
 "layer": [
  {"data": {"name": "Cband"}, "mark": {"type": "area", "opacity": 0.2},
   "encoding": {"x": {"field": "year", "type": "quantitative", "scale": {"domain": [1890, 2200], "nice": false, "zero": false}, "axis": null},
    "y": {"field": "lo", "type": "quantitative", "scale": {"domain": [-5, 50], "nice": false, "zero": false}, "axis": null}, "y2": {"field": "hi"},
    "fill": {"field": "series", "type": "nominal", "scale": {"domain": ["CCSM3 20th stabilization", "PCM 20th stabilization", "PCM A1B"], "range": ["#f5a060", "#f5a060", "#30b060"]}, "legend": null}}},
  {"data": {"name": "rulesV"}, "mark": {"type": "rule", "color": "#555", "strokeWidth": 1},
   "encoding": {"x": {"field": "year", "type": "quantitative", "scale": {"domain": [1890, 2200], "nice": false, "zero": false},
     "axis": {"orient": "top", "values": [1890,1900,1910,1920,1930,1940,1950,1960,1970,1980,1990,2000,2010,2020,2030,2040,2050,2060,2070,2080,2090,2100,2110,2120,2130,2140,2150,2160,2170,2180,2190,2200], "labels": false, "tickSize": {"condition": {"test": "datum.value % 50 === 0", "value": 9}, "value": 5}, "title": "Globally averaged sea level rise", "titleFontSize": 13.5, "titlePadding": 5, "titleBaseline": "alphabetic", "zindex": 1}}}},
  {"data": {"name": "rulesH"}, "mark": {"type": "rule", "color": "#555", "strokeWidth": 1},
   "encoding": {"y": {"field": "value", "type": "quantitative", "scale": {"domain": [-5, 50], "nice": false, "zero": false},
     "axis": {"orient": "right", "values": [-4,-2,0,2,4,6,8,10,12,14,16,18,20,22,24,26,28,30,32,34,36,38,40,42,44,46,48,50], "labels": false, "tickSize": {"condition": {"test": "datum.value % 10 === 0", "value": 9}, "value": 5}, "title": "C", "titleX": -441, "titleY": -17, "titleAngle": 0, "titleAlign": "left", "titleBaseline": "alphabetic", "titleFontSize": 18, "titleFontWeight": "bold", "zindex": 1}}}},
  {"data": {"name": "C"}, "mark": {"type": "line", "strokeWidth": 1.4},
   "encoding": {
    "x": {"field": "year", "type": "quantitative", "scale": {"domain": [1890, 2200], "nice": false, "zero": false},
     "axis": {"orient": "bottom", "values": [1890,1900,1910,1920,1930,1940,1950,1960,1970,1980,1990,2000,2010,2020,2030,2040,2050,2060,2070,2080,2090,2100,2110,2120,2130,2140,2150,2160,2170,2180,2190,2200], "format": "d", "labelExpr": "datum.value % 50 === 0 ? datum.label : ''", "tickSize": {"condition": {"test": "datum.value % 50 === 0", "value": 9}, "value": 5}, "labelPadding": 6, "title": null, "zindex": 1}},
    "y": {"field": "value", "type": "quantitative", "scale": {"domain": [-5, 50], "nice": false, "zero": false},
     "axis": {"orient": "left", "values": [-4,-2,0,2,4,6,8,10,12,14,16,18,20,22,24,26,28,30,32,34,36,38,40,42,44,46,48,50], "format": "d", "labelExpr": "datum.value % 10 === 0 ? datum.label : ''", "tickSize": {"condition": {"test": "datum.value % 10 === 0", "value": 9}, "value": 5}, "labelPadding": 10, "title": "cm", "titleFontSize": 15, "titlePadding": 12, "zindex": 1}},
    "color": {"field": "series", "type": "nominal", "scale": {"domain": ["PCM 20th stabilization", "PCM B1", "PCM A1B", "PCM A2", "CCSM3 20th stabilization", "CCSM3 B1", "CCSM3 A1B", "CCSM3 A2"], "range": ["#f7923a", "#3b5fc4", "#1f9a4a", "#e8352b", "#f7923a", "#3b5fc4", "#1f9a4a", "#e8352b"]},
     "legend": {"orient": "none", "legendX": 18, "legendY": 23, "title": null, "symbolType": "M-4,0H4", "symbolSize": 49, "symbolOffset": 6.95, "symbolStrokeWidth": 2, "labelFontSize": 9.5, "labelFont": "Liberation Sans", "labelOffset": 7.8, "rowPadding": 5.1, "padding": 5, "strokeColor": "#888", "fillColor": "white", "labelLimit": 400}},
    "strokeDash": {"field": "series", "type": "nominal", "scale": {"domain": ["PCM 20th stabilization", "PCM B1", "PCM A1B", "PCM A2", "CCSM3 20th stabilization", "CCSM3 B1", "CCSM3 A1B", "CCSM3 A2"], "range": [[4,3],[4,3],[4,3],[4,3],[1,0],[1,0],[1,0],[1,0]]},
     "legend": {"orient": "none", "legendX": 18, "legendY": 23, "title": null, "symbolType": "M-4,0H4", "symbolSize": 49, "symbolOffset": 6.95, "symbolStrokeWidth": 2, "labelFontSize": 9.5, "labelFont": "Liberation Sans", "labelOffset": 7.8, "rowPadding": 5.1, "padding": 5, "strokeColor": "#888", "fillColor": "white", "labelLimit": 400}}
   }}
 ],
 "resolve": {"axis": {"x": "independent", "y": "independent"}}
}
],
"spacing": 62,
"bounds": "flush",
"resolve": {"scale": {"color": "independent", "strokeDash": "independent", "fill": "independent"}}
}
